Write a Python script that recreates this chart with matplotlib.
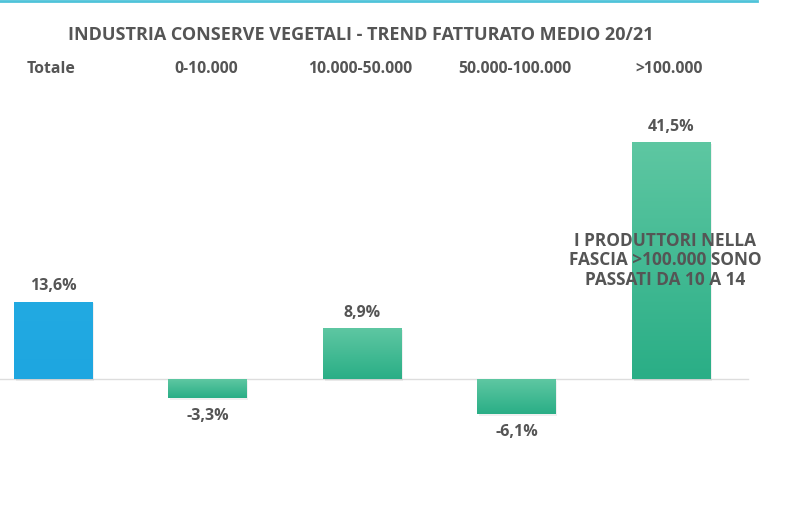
import matplotlib.pyplot as plt
import numpy as np
import matplotlib.colors as clr

plt.rcParams['font.family'] = ['Open Sans', 'DejaVu Sans']

categorie = ['Totale', '0-10.000', '10.000-50.000', '50.000-100.000', '>100.000']
valori = [13.6, -3.3, 8.9, -6.1, 41.5]
etichette = ['13,6%', '-3,3%', '8,9%', '-6,1%', '41,5%']
titolo = 'INDUSTRIA CONSERVE VEGETALI - TREND FATTURATO MEDIO 20/21'
nota = 'I PRODUTTORI NELLA\nFASCIA >100.000 SONO\nPASSATI DA 10 A 14'

grigio = '#555555'
cmGreen = clr.LinearSegmentedColormap.from_list('verde', ['#2aae86', '#5ec7a2'])
cmBlue = clr.LinearSegmentedColormap.from_list('blu', ['#1ea6e0', '#22aae2'])

fig = plt.figure(figsize=(7.87, 5.14), dpi=100)
ax = fig.add_axes([0, 0, 1, 1])
ax.set_xlim(-0.343, 4.751)
ax.set_ylim(-23.6, 66.4)
ax.axis('off')

larghezza = 0.505
x = np.arange(len(categorie))

# linea dello zero
ax.plot([-0.343, 4.5], [0, 0], color='#dddddd', lw=1, zorder=1)

for i, v in enumerate(valori):
    cm = cmBlue if i == 0 else cmGreen
    bars = ax.bar(x[i], v, width=larghezza, color='none', zorder=2)
    b = bars[0]
    # ombra leggera
    ax.bar(x[i] + 0.01, v, width=larghezza, bottom=-0.3, color='#000000',
           alpha=0.06, zorder=1.5)
    grad = np.linspace(0, 1, 100).reshape(-1, 1)
    lo, hi = min(0, v), max(0, v)
    im = ax.imshow(grad, cmap=cm, aspect='auto', origin='lower',
                   extent=[x[i] - larghezza / 2, x[i] + larghezza / 2, lo, hi],
                   zorder=2)
    im.set_clip_path(b)
    if v >= 0:
        ax.text(x[i], v + 1.3, etichette[i], ha='center', va='bottom',
                fontsize=11.5, fontweight='bold', color=grigio)
    else:
        ax.text(x[i], v - 1.8, etichette[i], ha='center', va='top',
                fontsize=11.5, fontweight='bold', color=grigio)
    ax.text(x[i] - 0.01, 54.3, categorie[i], ha='center', va='center',
            fontsize=11.3, fontweight='bold', color=grigio)

ax.text(1.99, 60.2, titolo, ha='center', va='center', fontsize=13,
        fontweight='bold', color=grigio)

ax.text(3.962, 20.8, nota, ha='center', va='center', fontsize=12.4,
        fontweight='bold', color=grigio, linespacing=1.12, zorder=5)

# linea azzurra in alto
fig.add_artist(plt.Line2D([0, 0.962], [0.998, 0.998], color='#4fc3d9', lw=2))

plt.savefig('out.png', dpi=100)
